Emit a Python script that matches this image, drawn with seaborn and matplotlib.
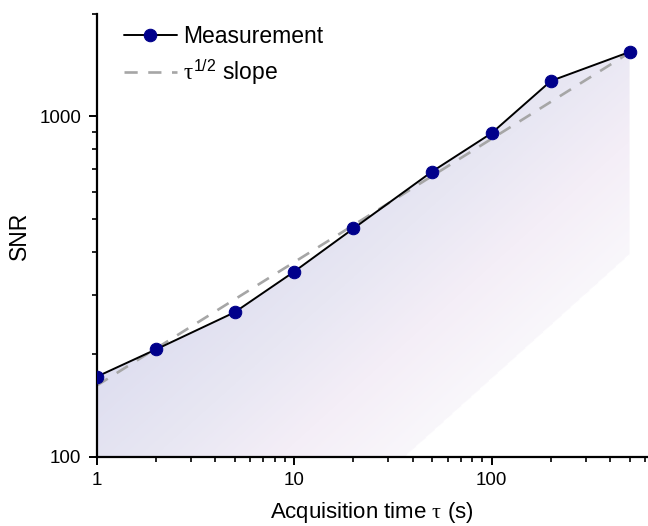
import numpy as np
import pandas as pd
import matplotlib
matplotlib.use("Agg")
import matplotlib.pyplot as plt
from matplotlib.colors import LinearSegmentedColormap
from matplotlib.patches import Polygon
from matplotlib.ticker import LogLocator, FuncFormatter, NullFormatter
import seaborn as sns

# Measured SNR versus acquisition time
tau_s = [1, 2, 5, 10, 20, 50, 100, 200, 500]
snr = [172, 207, 266, 350, 469, 689, 893, 1272, 1547]

# Reference power-law guide line (end points)
guide_tau = [1, 500]
guide_snr = [162, 1540]

sns.set_style("ticks")
plt.rcParams["font.family"] = ["Liberation Sans", "DejaVu Sans"]
plt.rcParams["mathtext.fontset"] = "custom"
plt.rcParams["mathtext.rm"] = "Liberation Sans"
plt.rcParams["mathtext.it"] = "Liberation Serif"
plt.rcParams["text.color"] = "black"
plt.rcParams["axes.labelcolor"] = "black"

fig = plt.figure(figsize=(6.48, 5.26), dpi=100)
ax = fig.add_axes([0.149, 0.1312, 0.851, 0.8422])
ax.set_xscale("log")
ax.set_yscale("log")
ax.set_xlim(1, 620)
ax.set_ylim(100, 2000)

# Soft diagonal gradient under the measured curve
gu, gv = np.meshgrid(np.linspace(0, 1, 500), np.linspace(0, 1, 500))
t = 369 * gu - 329 * gv
s = np.clip((t + 60) / 280, 0, 1)
cmap = LinearSegmentedColormap.from_list(
    "fade",
    [(0.0, "#dedef0"), (0.35, "#e8e7f3"), (0.65, "#f4eef7"),
     (0.95, "#f9f7fb"), (0.951, "#ffffff"), (1.0, "#ffffff")],
)
im = ax.imshow(s, cmap=cmap, vmin=0, vmax=1, origin="lower",
               extent=[0, 1, 0, 1], transform=ax.transAxes,
               aspect="auto", interpolation="bilinear", zorder=0)
verts = [(tau_s[0], 100)] + list(zip(tau_s, snr)) + [(tau_s[-1], 100)]
clip = Polygon(verts, closed=True, transform=ax.transData,
               facecolor="none", edgecolor="none")
ax.add_patch(clip)
im.set_clip_path(clip)

df = pd.DataFrame({"tau": tau_s, "snr": snr})
guide = pd.DataFrame({"tau": guide_tau, "snr": guide_snr})

sns.lineplot(data=guide, x="tau", y="snr", ax=ax, color="#a6a6a6",
             lw=1.9, dashes=False, zorder=2, label=r"$\tau^{1/2}$ slope")
ax.lines[-1].set_dashes((5, 4))
sns.lineplot(data=df, x="tau", y="snr", ax=ax, color="black", lw=1.4,
             marker="o", markersize=9, markerfacecolor="#00008b",
             markeredgecolor="#00008b", zorder=3, label="Measurement")

for side in ["top", "right"]:
    ax.spines[side].set_visible(False)
for side in ["left", "bottom"]:
    ax.spines[side].set_linewidth(1.6)
    ax.spines[side].set_color("black")

ax.xaxis.set_major_locator(LogLocator(base=10, numticks=10))
ax.yaxis.set_major_locator(LogLocator(base=10, numticks=10))
ax.xaxis.set_minor_locator(LogLocator(base=10, subs=np.arange(2, 10), numticks=20))
ax.yaxis.set_minor_locator(LogLocator(base=10, subs=np.arange(2, 10), numticks=20))
fmt = FuncFormatter(lambda v, p: f"{v:g}")
ax.xaxis.set_major_formatter(fmt)
ax.yaxis.set_major_formatter(fmt)
ax.xaxis.set_minor_formatter(NullFormatter())
ax.yaxis.set_minor_formatter(NullFormatter())
ax.tick_params(which="major", direction="out", length=6, width=1.4,
               labelsize=13.5, pad=5, colors="black")
ax.tick_params(which="minor", direction="out", length=3.5, width=1.2,
               colors="black")

ax.set_xlabel(r"Acquisition time $\tau$ (s)", fontsize=16, labelpad=7.5)
ax.set_ylabel("SNR", fontsize=16.5, labelpad=6)

h, l = ax.get_legend_handles_labels()
order = [l.index("Measurement"), l.index(r"$\tau^{1/2}$ slope")]
ax.legend([h[i] for i in order], [l[i] for i in order],
          loc="upper left", bbox_to_anchor=(0.05, 0.975), frameon=False,
          fontsize=16.5, handlelength=2.3, handletextpad=0.26,
          labelspacing=0.4, borderpad=0, borderaxespad=0)

fig.savefig("out.png", dpi=100)
